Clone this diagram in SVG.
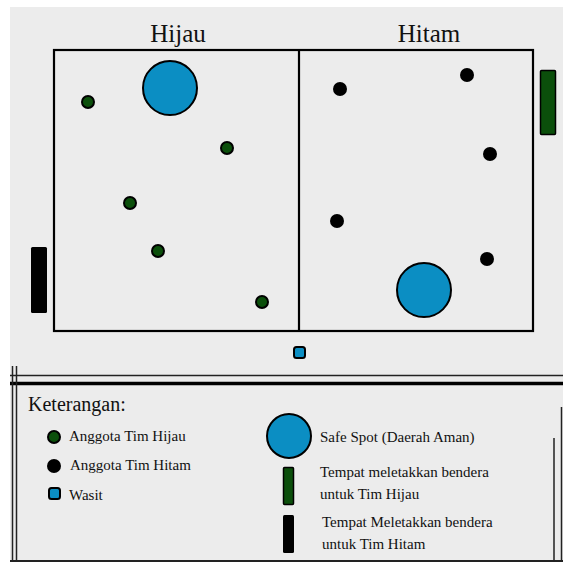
<svg xmlns="http://www.w3.org/2000/svg" width="563" height="562" viewBox="0 0 563 562">
<style>
.t{font-family:"Liberation Serif","Times New Roman",serif;fill:#111}
.big{font-size:25px}
.lg{font-size:15px}
.field{fill:none;stroke:#000;stroke-width:2.2}
.g{fill:#0b4f0b;stroke:#000;stroke-width:2}
.k{fill:#000}
.safe{fill:#0b8ec3;stroke:#000;stroke-width:2}
.flagG{fill:#0b4f0b;stroke:#000;stroke-width:1.5}
.flagK{fill:#000}
.ln{stroke:#222;fill:none}
</style>
<rect x="0" y="0" width="563" height="562" fill="#fff"/>
<rect x="10" y="7" width="553" height="555" fill="#ececec"/>
<g id="labels">
<text class="t big" x="178" y="42" text-anchor="middle">Hijau</text>
<text class="t big" x="429" y="42" text-anchor="middle">Hitam</text>
</g>
<g id="field">
<rect class="field" x="54" y="50" width="479" height="281"/>
<line class="field" x1="299" y1="50" x2="299" y2="331"/>
</g>
<g id="safe-spots">
<circle class="safe" cx="170" cy="88" r="27"/>
<circle class="safe" cx="424" cy="290" r="27"/>
</g>
<g id="green-team">
<circle class="g" cx="88" cy="102" r="6"/>
<circle class="g" cx="227" cy="148" r="6"/>
<circle class="g" cx="130" cy="203" r="6"/>
<circle class="g" cx="158" cy="251" r="6"/>
<circle class="g" cx="262" cy="302" r="6"/>
</g>
<g id="black-team">
<circle class="k" cx="340" cy="89" r="7"/>
<circle class="k" cx="467" cy="75" r="7"/>
<circle class="k" cx="490" cy="154" r="7"/>
<circle class="k" cx="337" cy="221" r="7"/>
<circle class="k" cx="487" cy="259" r="7"/>
</g>
<g id="flags">
<rect class="flagG" x="540.5" y="70.5" width="15" height="64" rx="1"/>
<rect class="flagK" x="31" y="247" width="16" height="66" rx="1.5"/>
</g>
<g id="wasit">
<rect class="safe" x="294" y="347" width="11" height="11" rx="2.5"/>
</g>
<g id="connectors">
<line class="ln" x1="10" y1="375.5" x2="563" y2="375.5" stroke-width="1.5"/>
<line x1="10" y1="383.5" x2="563" y2="383.5" stroke="#000" stroke-width="3.5"/>
<line class="ln" x1="12.5" y1="366" x2="12.5" y2="562" stroke-width="1.5"/>
<line class="ln" x1="16.5" y1="366" x2="16.5" y2="562" stroke-width="1.5"/>
<line class="ln" x1="10" y1="561" x2="563" y2="561" stroke-width="2"/>
<line class="ln" x1="554" y1="438" x2="554" y2="562" stroke-width="1.5"/>
<line class="ln" x1="561.5" y1="407" x2="561.5" y2="562" stroke-width="1.5"/>
</g>
<g id="legend">
<text class="t" x="28" y="411" font-size="20">Keterangan:</text>
<circle class="g" cx="54" cy="437" r="6"/>
<text class="t lg" x="69" y="441">Anggota Tim Hijau</text>
<circle class="k" cx="54" cy="466" r="7"/>
<text class="t lg" x="70" y="470">Anggota Tim Hitam</text>
<rect class="safe" x="49" y="488" width="11" height="11" rx="2.5"/>
<text class="t lg" x="69" y="500">Wasit</text>
<circle class="safe" cx="289" cy="436" r="22"/>
<text class="t lg" x="320" y="442">Safe Spot (Daerah Aman)</text>
<rect class="flagG" x="283.5" y="467.5" width="10" height="37" rx="1"/>
<text class="t lg" x="320" y="477">Tempat meletakkan bendera</text>
<text class="t lg" x="320" y="499">untuk Tim Hijau</text>
<rect class="flagK" x="283" y="515" width="11" height="38" rx="1.5"/>
<text class="t lg" x="322" y="527">Tempat Meletakkan bendera</text>
<text class="t lg" x="322" y="549">untuk Tim Hitam</text>
</g>
</svg>
